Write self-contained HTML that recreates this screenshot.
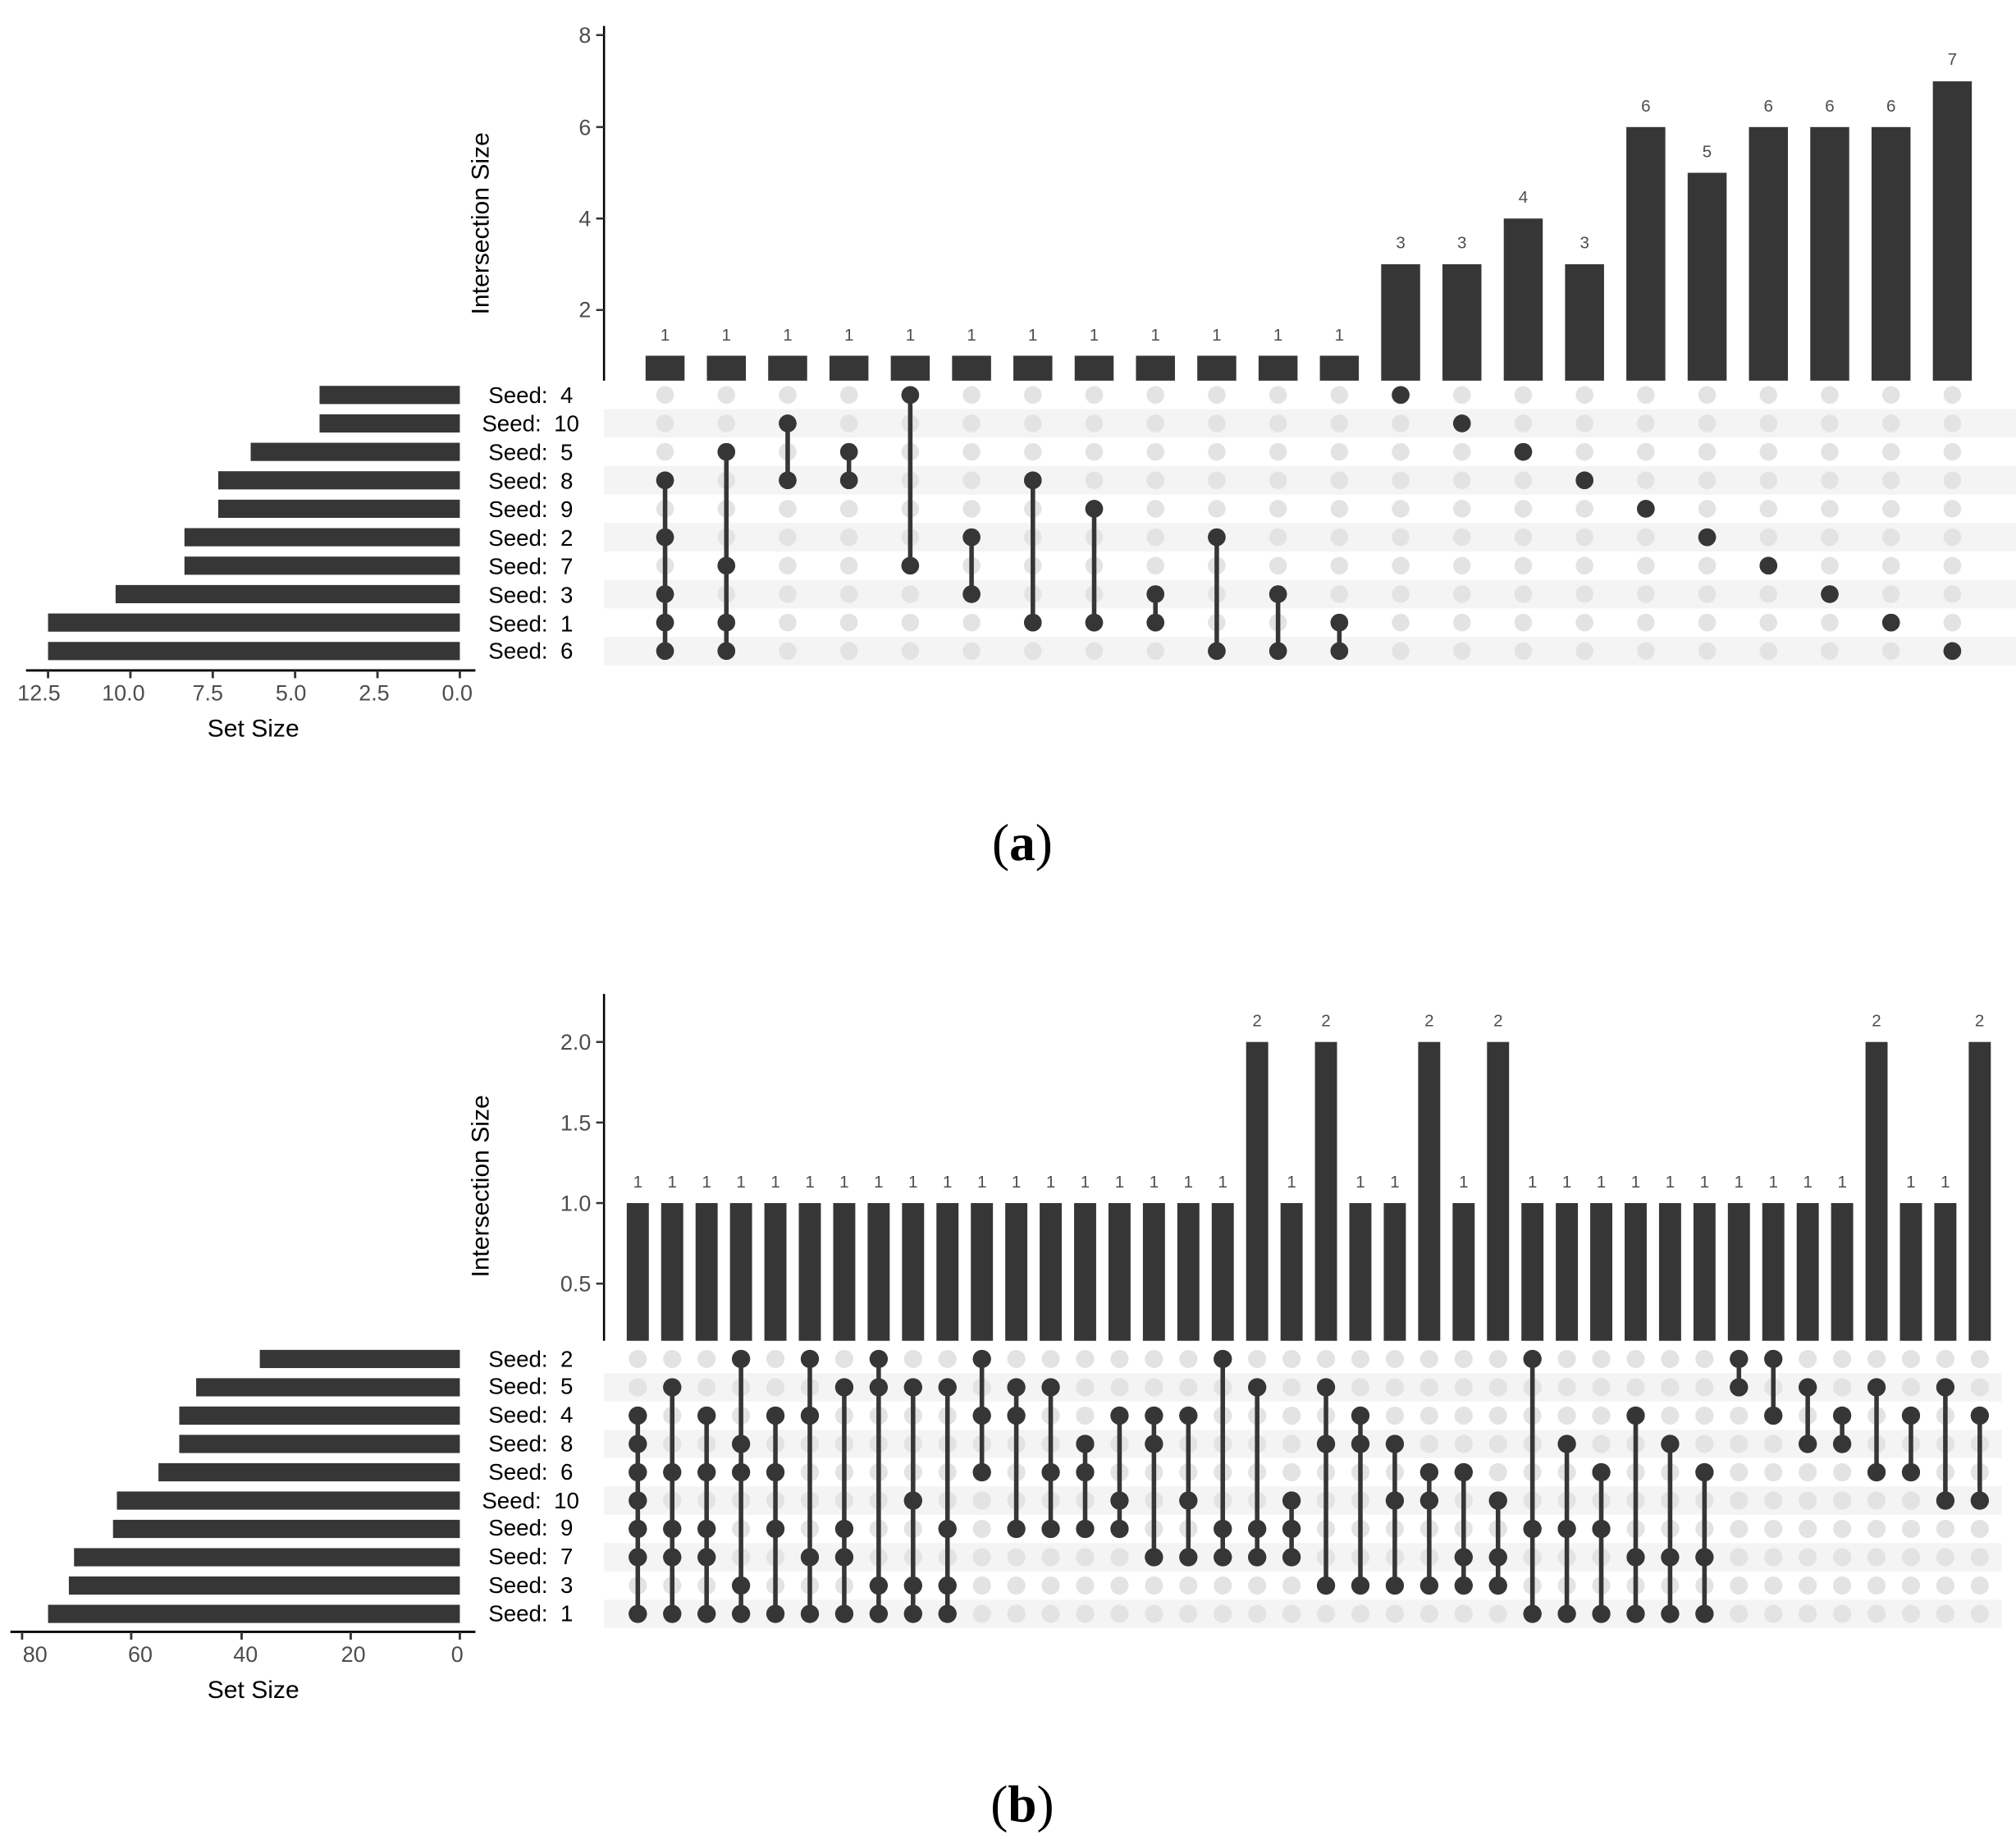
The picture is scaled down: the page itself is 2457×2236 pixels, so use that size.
<!DOCTYPE html>
<html><head><meta charset="utf-8"><style>
html,body{margin:0;padding:0;background:#fff;}
svg{display:block;}
text{font-family:"Liberation Sans",sans-serif;}
.sd{font-size:17.5px;fill:#000;}
.tk{font-size:17px;fill:#4d4d4d;}
.cn{font-size:13px;fill:#4d4d4d;text-anchor:middle;}
.ttl{font-size:19px;fill:#000;}
</style></head><body>
<svg id="s" width="2457" height="2236" viewBox="0 0 1552 1412.4" preserveAspectRatio="none" xmlns="http://www.w3.org/2000/svg">
<g id="shapes"></g>
<line x1="465" y1="20" x2="465" y2="293" stroke="#000" stroke-width="1.6"/>
<g stroke="#333" stroke-width="1.6">
<line x1="459" y1="27" x2="465" y2="27"/><line x1="459" y1="97.8" x2="465" y2="97.8"/><line x1="459" y1="168.2" x2="465" y2="168.2"/><line x1="459" y1="238.6" x2="465" y2="238.6"/>
</g>
<g class="tk" text-anchor="end">
<text x="455" y="33">8</text><text x="455" y="104">6</text><text x="455" y="174">4</text><text x="455" y="244">2</text>
</g>
<text class="ttl" transform="translate(376,172) rotate(-90)" text-anchor="middle">Intersection Size</text>
<g class="cn">
<text x="512" y="262">1</text><text x="559.2" y="262">1</text><text x="606.4" y="262">1</text><text x="653.6" y="262">1</text><text x="700.8" y="262">1</text><text x="748" y="262">1</text><text x="795.1" y="262">1</text><text x="842.3" y="262">1</text><text x="889.5" y="262">1</text><text x="936.7" y="262">1</text><text x="983.9" y="262">1</text><text x="1031.1" y="262">1</text>
<text x="1078.3" y="191">3</text><text x="1125.5" y="191">3</text><text x="1172.7" y="156">4</text><text x="1219.9" y="191">3</text><text x="1267" y="86">6</text><text x="1314.2" y="121">5</text><text x="1361.4" y="86">6</text><text x="1408.6" y="86">6</text><text x="1455.8" y="86">6</text><text x="1503" y="50">7</text>
</g>
<g class="sd">
<text x="376" y="310">Seed:&#160; 4</text><text x="371" y="332">Seed:&#160; 10</text><text x="376" y="354">Seed:&#160; 5</text><text x="376" y="376">Seed:&#160; 8</text><text x="376" y="398">Seed:&#160; 9</text><text x="376" y="420">Seed:&#160; 2</text><text x="376" y="442">Seed:&#160; 7</text><text x="376" y="464">Seed:&#160; 3</text><text x="376" y="486">Seed:&#160; 1</text><text x="376" y="507">Seed:&#160; 6</text>
</g>
<line x1="20" y1="516" x2="366" y2="516" stroke="#000" stroke-width="1.8"/>
<g stroke="#333" stroke-width="1.8"><line x1="37" y1="516" x2="37" y2="522"/><line x1="100.4" y1="516" x2="100.4" y2="522"/><line x1="163.8" y1="516" x2="163.8" y2="522"/><line x1="227.2" y1="516" x2="227.2" y2="522"/><line x1="290.6" y1="516" x2="290.6" y2="522"/><line x1="354" y1="516" x2="354" y2="522"/></g>
<g class="tk" text-anchor="middle">
<text x="30" y="539">12.5</text><text x="95" y="539">10.0</text><text x="160" y="539">7.5</text><text x="224" y="539">5.0</text><text x="288" y="539">2.5</text><text x="352" y="539">0.0</text>
</g>
<text class="ttl" x="195" y="567" text-anchor="middle">Set Size</text>
<text x="787" y="662" text-anchor="middle" style="font-family:'Liberation Serif',serif;font-size:40px;">(<tspan font-weight="bold">a</tspan>)</text>

<line x1="465" y1="765" x2="465" y2="1032" stroke="#000" stroke-width="1.6"/>
<g stroke="#333" stroke-width="1.6">
<line x1="459" y1="802" x2="465" y2="802"/><line x1="459" y1="864" x2="465" y2="864"/><line x1="459" y1="926" x2="465" y2="926"/><line x1="459" y1="988" x2="465" y2="988"/>
</g>
<g class="tk" text-anchor="end">
<text x="455" y="808">2.0</text><text x="455" y="870">1.5</text><text x="455" y="932">1.0</text><text x="455" y="994">0.5</text>
</g>
<text class="ttl" transform="translate(376,913) rotate(-90)" text-anchor="middle">Intersection Size</text>
<g class="cn">
<text x="491" y="914">1</text><text x="517.5" y="914">1</text><text x="544" y="914">1</text><text x="570.5" y="914">1</text><text x="597" y="914">1</text><text x="623.5" y="914">1</text><text x="649.9" y="914">1</text><text x="676.4" y="914">1</text><text x="702.9" y="914">1</text><text x="729.4" y="914">1</text><text x="755.9" y="914">1</text><text x="782.4" y="914">1</text><text x="808.9" y="914">1</text><text x="835.4" y="914">1</text><text x="861.9" y="914">1</text><text x="888.4" y="914">1</text><text x="914.8" y="914">1</text><text x="941.3" y="914">1</text>
<text x="967.8" y="790">2</text><text x="994.3" y="914">1</text><text x="1020.8" y="790">2</text><text x="1047.3" y="914">1</text><text x="1073.8" y="914">1</text><text x="1100.3" y="790">2</text><text x="1126.8" y="914">1</text><text x="1153.3" y="790">2</text>
<text x="1179.7" y="914">1</text><text x="1206.2" y="914">1</text><text x="1232.7" y="914">1</text><text x="1259.2" y="914">1</text><text x="1285.7" y="914">1</text><text x="1312.2" y="914">1</text><text x="1338.7" y="914">1</text><text x="1365.2" y="914">1</text><text x="1391.7" y="914">1</text><text x="1418.2" y="914">1</text>
<text x="1444.6" y="790">2</text><text x="1471.1" y="914">1</text><text x="1497.6" y="914">1</text><text x="1524" y="790">2</text>
</g>
<g class="sd">
<text x="376" y="1052">Seed:&#160; 2</text><text x="376" y="1073">Seed:&#160; 5</text><text x="376" y="1095">Seed:&#160; 4</text><text x="376" y="1117">Seed:&#160; 8</text><text x="376" y="1139">Seed:&#160; 6</text><text x="371" y="1161">Seed:&#160; 10</text><text x="376" y="1182">Seed:&#160; 9</text><text x="376" y="1204">Seed:&#160; 7</text><text x="376" y="1226">Seed:&#160; 3</text><text x="376" y="1248">Seed:&#160; 1</text>
</g>
<line x1="8" y1="1256" x2="366" y2="1256" stroke="#000" stroke-width="1.8"/>
<g stroke="#333" stroke-width="1.8"><line x1="17" y1="1256" x2="17" y2="1262"/><line x1="101" y1="1256" x2="101" y2="1262"/><line x1="186" y1="1256" x2="186" y2="1262"/><line x1="270" y1="1256" x2="270" y2="1262"/><line x1="354" y1="1256" x2="354" y2="1262"/></g>
<g class="tk" text-anchor="middle">
<text x="27" y="1279">80</text><text x="108" y="1279">60</text><text x="189" y="1279">40</text><text x="272" y="1279">20</text><text x="352" y="1279">0</text>
</g>
<text class="ttl" x="195" y="1307" text-anchor="middle">Set Size</text>
<text x="787" y="1402" text-anchor="middle" style="font-family:'Liberation Serif',serif;font-size:40px;">(<tspan font-weight="bold">b</tspan>)</text>
</svg>
<script>
(function(){
var NS="http://www.w3.org/2000/svg",g=document.getElementById("shapes");
function el(t,a){var e=document.createElementNS(NS,t);for(var k in a)e.setAttribute(k,a[k]);g.appendChild(e);return e;}
var D="#363636",L="#e3e3e3",S="#f4f4f4";
function panel(o){
  for(var r=1;r<10;r+=2) el("rect",{x:465,y:o.ry[r]-o.rh/2,width:o.sx2-465,height:o.rh,fill:S});
  for(var r=0;r<10;r++) el("rect",{x:o.lb[r],y:o.ry[r]-7,width:354-o.lb[r],height:14,fill:D});
  for(var c=0;c<o.n;c++){
    var x=o.x0+o.dx*c,v=o.vals[c],top=o.z-o.u*v;
    el("rect",{x:x-o.bw/2,y:top,width:o.bw,height:o.bb-top,fill:D});
    var on=o.sets[c];
    for(var r=0;r<10;r++) el("circle",{cx:x,cy:o.ry[r],r:o.dr,fill:on.indexOf(r)>=0?D:L});
    if(on.length>1){var mn=Math.min.apply(null,on),mx=Math.max.apply(null,on);
      el("line",{x1:x,y1:o.ry[mn],x2:x,y2:o.ry[mx],stroke:D,"stroke-width":3.5});}
    for(var i=0;i<on.length;i++) el("circle",{cx:x,cy:o.ry[on[i]],r:o.dr,fill:D});
  }
}
var ryA=[],ryB=[];for(var i=0;i<10;i++){ryA.push(304+21.9*i);ryB.push(1046+21.8*i);}
panel({n:22,x0:512,dx:47.19,bw:30,z:309,u:35.2,bb:293,dr:6.8,ry:ryA,rh:21.9,sx2:1552,
 lb:[246,246,193,168,168,142,142,89,37,37],
 vals:[1,1,1,1,1,1,1,1,1,1,1,1,3,3,4,3,6,5,6,6,6,7],
 sets:[[3,5,7,8,9],[2,6,8,9],[1,3],[2,3],[0,6],[5,7],[3,8],[4,8],[7,8],[5,9],[7,9],[8,9],[0],[1],[2],[3],[4],[5],[6],[7],[8],[9]]});
var vb=[];for(var i=0;i<40;i++)vb.push(1);[18,20,23,25,36,39].forEach(function(i){vb[i]=2;});
panel({n:40,x0:491,dx:26.49,bw:17,z:1050,u:124,bb:1032,dr:7,ry:ryB,rh:21.8,sx2:1541,
 lb:[200,151,138,138,122,90,87,57,53,37],
 vals:vb,
 sets:[[2,3,4,5,6,7,9],[1,4,6,7,9],[2,4,6,7,9],[0,3,4,8,9],[2,4,6,9],[0,2,7,9],[1,6,7,9],[0,1,8,9],[1,5,8,9],[1,6,8,9],
 [0,2,4],[1,2,6],[1,4,6],[3,4,6],[2,5,6],[2,3,7],[2,5,7],[0,6,7],[1,6,7],[5,6,7],
 [1,3,8],[2,3,8],[3,5,8],[4,5,8],[4,7,8],[5,7,8],[0,6,9],[3,6,9],[4,6,9],[2,7,9],
 [3,7,9],[4,7,9],[0,1],[0,2],[1,3],[2,3],[1,4],[2,4],[1,5],[2,5]]});
})();
</script>
</body></html>
